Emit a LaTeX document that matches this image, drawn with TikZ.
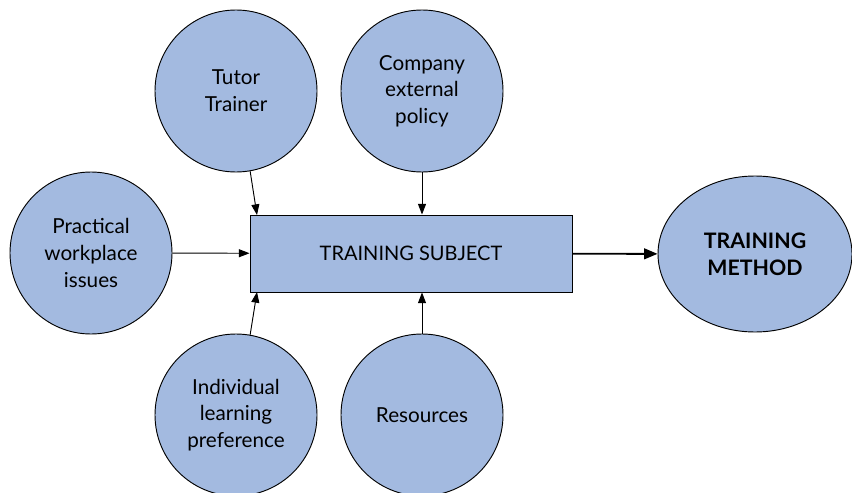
\documentclass[tikz,border=0pt]{standalone}
\usepackage{fontspec}
\setmainfont{Lato}
\usetikzlibrary{arrows.meta,shapes.geometric}
\definecolor{fillblue}{HTML}{A3BAE0}
\begin{document}
\begin{tikzpicture}[x=0.75pt,y=-0.75pt,
  circ/.style={circle,draw=black,line width=0.7pt,fill=fillblue,minimum size=162*0.75pt,inner sep=0pt,align=center,font=\fontsize{15.5}{20}\selectfont},
  box/.style={rectangle,draw=black,line width=0.7pt,fill=fillblue,minimum width=322*0.75pt,minimum height=77*0.75pt,inner sep=0pt,font=\fontsize{15}{20}\selectfont},
  oval/.style={ellipse,draw=black,line width=0.7pt,fill=fillblue,minimum width=194*0.75pt,minimum height=156*0.75pt,inner sep=0pt,align=center,font=\fontsize{16}{20}\selectfont\bfseries},
  arr/.style={-{Triangle[length=8pt,width=6pt]},line width=0.7pt},
  bigarr/.style={-{Triangle[length=10pt,width=8pt]},line width=1.4pt}]
\useasboundingbox (0,0) rectangle (852,492);
\node[circ] (tutor) at (236,91) {Tutor\\Trainer};
\node[circ] (company) at (422,91) {Company\\external\\policy};
\node[circ] (practical) at (91,253) {Practical\\workplace\\issues};
\node[circ] (individual) at (236,415) {Individual\\learning\\preference};
\node[circ] (resources) at (422,415) {Resources};
\node[box] (subject) at (411,253.5) {TRAINING SUBJECT};
\node[oval] (method) at (755,254) {TRAINING\\METHOD};
\coordinate (tin) at (257,215);
\coordinate (iin) at (257,292);
\draw[arr] (tutor.-80) -- (tin);
\draw[arr] (company) -- (company|-subject.north);
\draw[arr] (practical) -- (subject);
\draw[arr] (individual.80) -- (iin);
\draw[arr] (resources) -- (resources|-subject.south);
\draw[bigarr] (subject) -- (method);
\end{tikzpicture}
\end{document}
